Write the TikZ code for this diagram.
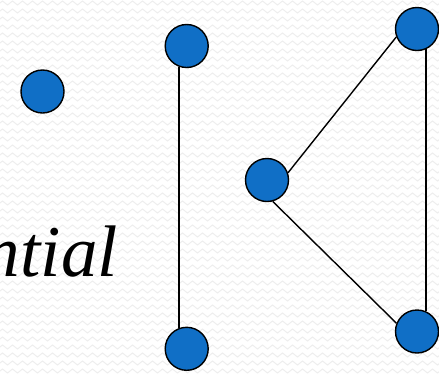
\documentclass[tikz,border=0pt]{standalone}
\usepackage{fontspec}
\newfontfamily\wordfont{Liberation Serif}
\usetikzlibrary{decorations.pathmorphing}
\definecolor{dotblue}{RGB}{16,111,198}
\definecolor{wavegray}{RGB}{238,238,238}
\tikzset{
  vertex/.style={circle, draw=black, line width=1.4pt, fill=dotblue,
                 minimum size=43pt, inner sep=0pt},
  edge/.style={draw=black, line width=1.4pt},
  bgwave/.style={draw=wavegray, line width=1pt,
                 decorate, decoration={zigzag, segment length=10pt, amplitude=2pt}},
  label/.style={font=\wordfont\fontsize{73}{73}\selectfont\itshape, inner sep=0pt, anchor=base east}
}
\begin{document}
\begin{tikzpicture}[x=1pt, y=-1pt]
  % page frame with its faint wavy texture
  \fill[white] (0,0) rectangle (439,373);
  \useasboundingbox (0,0) rectangle (439,373);
  \begin{scope}
    \clip (0,0) rectangle (439,373);
    \foreach \r in {0,...,47} {
      \draw[bgwave] (-10,\r*8+3) -- (450,\r*8+3);
    }
  \end{scope}

  % text fragment at the left edge
  \node[label] (word) at (118,276) {ntial};

  % vertices
  \node[vertex] (a) at (42.5,91.5) {};
  \node[vertex] (b) at (186.7,46) {};
  \node[vertex] (c) at (186.7,348.8) {};
  \node[vertex] (d) at (267,180) {};
  \node[vertex] (e) at (417,29) {};
  \node[vertex] (f) at (417,331.5) {};

  % edges
  \draw[edge] (b.-110) -- (c.110);
  \draw[edge] (d.19) -- (e.201);
  \draw[edge] (d.-75) -- (f.158);
  \draw[edge] (e.-66) -- (f.66);
\end{tikzpicture}
\end{document}
